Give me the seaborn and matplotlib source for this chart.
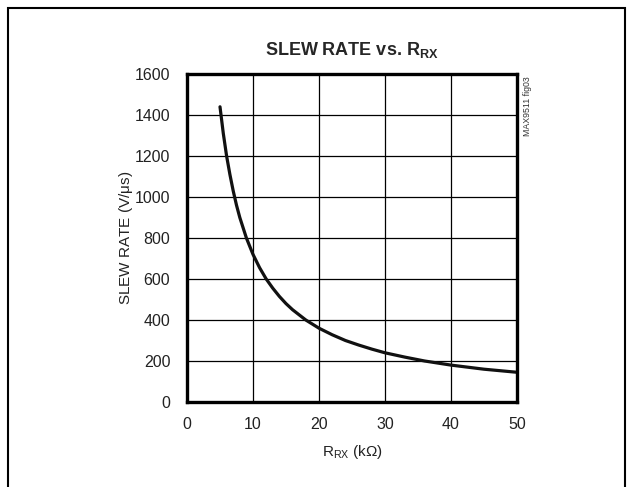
import matplotlib
matplotlib.use("Agg")
import matplotlib.pyplot as plt
import seaborn as sns
import pandas as pd

# values
r_rx_kohm = [5, 5.5, 6, 6.5, 7, 7.5, 8, 8.5, 9, 9.5, 10, 11, 12, 13, 14, 15, 16, 17, 18,
             19, 20, 22, 24, 26, 28, 30, 33, 36, 40, 45, 50]
slew_rate = [1440, 1310, 1200, 1110, 1030, 960, 900, 850, 800, 760, 720, 655, 600, 555,
             515, 480, 450, 425, 400, 380, 360, 328, 300, 278, 258, 240, 219, 200, 180,
             160, 145]

x_ticks = [0, 10, 20, 30, 40, 50]
y_ticks = [0, 200, 400, 600, 800, 1000, 1200, 1400, 1600]

df = pd.DataFrame({"r": r_rx_kohm, "sr": slew_rate})

sns.set_style("white")
plt.rcParams['font.family'] = ['Liberation Sans', 'DejaVu Sans']
plt.rcParams['mathtext.default'] = 'regular'

fig = plt.figure(figsize=(6.33, 4.87), dpi=100)
ax = fig.add_axes([187 / 633, 1 - 402 / 487, 330 / 633, 328 / 487])

sns.lineplot(data=df, x="r", y="sr", ax=ax, color="#111111", linewidth=2.3)

ax.set_xlim(0, 50)
ax.set_ylim(0, 1600)
ax.set_xticks(x_ticks)
ax.set_yticks(y_ticks)
ax.grid(True, color="black", linewidth=0.9)
for s in ax.spines.values():
    s.set_visible(True)
    s.set_color("black")
    s.set_linewidth(2.4)
ax.tick_params(axis="both", length=0, labelsize=11.5, colors="#222222")
ax.tick_params(axis="y", pad=12)
ax.tick_params(axis="x", pad=11)

ax.set_xlabel(r"R$_{RX}$ (k$\Omega$)", fontsize=11, color="#222222", labelpad=8)
ax.set_ylabel(r"SLEW RATE (V/$\mu$s)", fontsize=11, color="#222222", labelpad=0)
ax.set_title(r"SLEW RATE vs. R$_{RX}$", fontsize=13, fontweight="bold", pad=14)

fig.text(523 / 633, 1 - 76 / 487, "MAX9511 fig03", rotation=90, fontsize=6.3,
         va="top", ha="left", color="#333333")

# outer frame of the datasheet figure
frame = plt.Rectangle((8 / 633, -0.01), 617 / 633, 1 - 8 / 487 + 0.01, transform=fig.transFigure,
                      fill=False, edgecolor="black", linewidth=1.5)
fig.patches.append(frame)

fig.savefig("out.png", dpi=100)
